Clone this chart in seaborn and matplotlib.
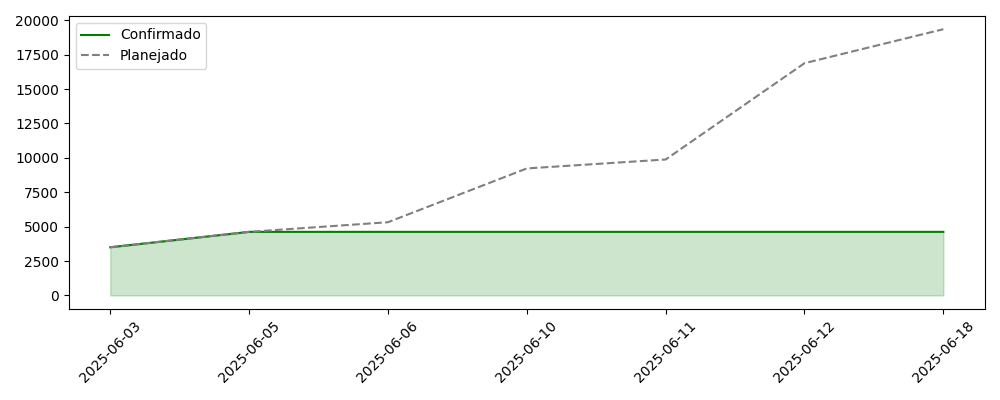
import pandas as pd
import matplotlib
matplotlib.use("Agg")
import matplotlib.pyplot as plt
import seaborn as sns

# dados
datas = ["2025-06-03", "2025-06-05", "2025-06-06", "2025-06-10",
         "2025-06-11", "2025-06-12", "2025-06-18"]
confirmado = [3500, 4620, 4620, 4620, 4620, 4620, 4620]
planejado = [3500, 4620, 5320, 9230, 9880, 16880, 19350]

df = pd.DataFrame({"data": datas, "Confirmado": confirmado, "Planejado": planejado})

fig, ax = plt.subplots(figsize=(10, 4), dpi=100)
sns.lineplot(data=df, x="data", y="Confirmado", color="green", label="Confirmado", ax=ax)
sns.lineplot(data=df, x="data", y="Planejado", color="gray", linestyle="--", label="Planejado", ax=ax)
ax.fill_between(range(len(datas)), df["Confirmado"], color="green", alpha=0.2)

ax.set_xlabel("")
ax.set_ylabel("")
plt.xticks(rotation=45)
ax.legend(loc="upper left")
plt.tight_layout()
plt.savefig("out.png")
